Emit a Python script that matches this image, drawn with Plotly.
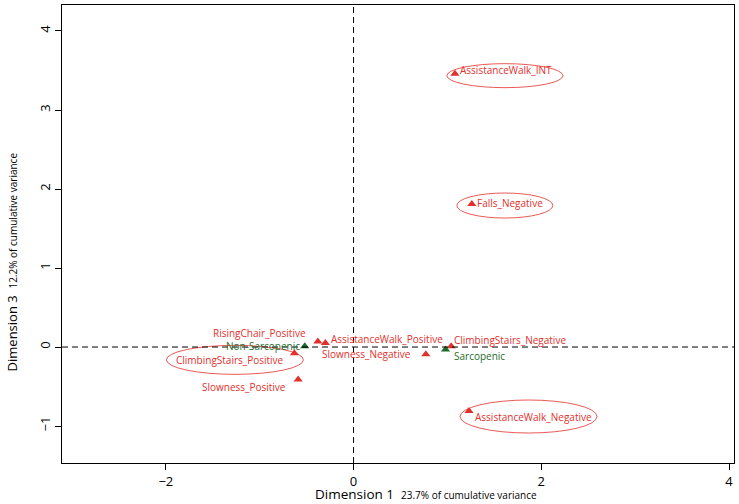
import plotly.graph_objects as go

# category coordinates (Dimension 1, Dimension 3)
cat_names = ["AssistanceWalk_INT", "Falls_Negative", "AssistanceWalk_Negative",
             "ClimbingStairs_Negative", "Slowness_Negative", "AssistanceWalk_Positive",
             "RisingChair_Positive", "ClimbingStairs_Positive", "Slowness_Positive"]
cat_x = [1.08, 1.26, 1.23, 1.04, 0.77, -0.30, -0.38, -0.63, -0.59]
cat_y = [3.46, 1.81, -0.81, 0.01, -0.09, 0.05, 0.07, -0.08, -0.41]

# supplementary groups
grp_names = ["Sarcopenic", "Non-Sarcopenic"]
grp_x = [0.98, -0.52]
grp_y = [-0.03, 0.01]

RED = "#e2302b"
GREEN = "#1f6b2c"
FONT = "Open Sans"

# label placement: (xanchor, yanchor, xshift, yshift)
cat_label_pos = {
    "AssistanceWalk_INT": ("left", "middle", 3, 4),
    "Falls_Negative": ("left", "middle", 3, 1),
    "AssistanceWalk_Negative": ("left", "middle", 4, -6),
    "ClimbingStairs_Negative": ("left", "middle", 1, 6),
    "Slowness_Negative": ("right", "middle", -13, 0),
    "AssistanceWalk_Positive": ("left", "middle", 4, 4),
    "RisingChair_Positive": ("right", "middle", -10, 8),
    "ClimbingStairs_Positive": ("right", "middle", -8, -7),
    "Slowness_Positive": ("right", "middle", -10, -8),
}
grp_label_pos = {
    "Sarcopenic": ("left", "middle", 6, -7),
    "Non-Sarcopenic": ("right", "middle", -3, 0),
}
# highlighted categories: pixel box relative to the point (x0, x1, y0, y1)
ellipses = {
    "AssistanceWalk_INT": (-8, 108, -14, 10),
    "Falls_Negative": (-15, 81, -14, 11),
    "AssistanceWalk_Negative": (-9, 128, -22, 11),
    "ClimbingStairs_Positive": (-128, 9, -21, 8),
}

fig = go.Figure()
fig.add_trace(go.Scatter(x=cat_x, y=cat_y, mode="markers", hoverinfo="text", text=cat_names,
                         marker=dict(symbol="triangle-up", size=8, color=RED)))
fig.add_trace(go.Scatter(x=grp_x, y=grp_y, mode="markers", hoverinfo="text", text=grp_names,
                         marker=dict(symbol="triangle-up", size=8, color=GREEN)))

for n, x, y in zip(cat_names, cat_x, cat_y):
    xa, ya, dx, dy = cat_label_pos[n]
    fig.add_annotation(x=x, y=y, text=n, showarrow=False, xanchor=xa, yanchor=ya,
                       xshift=dx, yshift=dy, font=dict(family=FONT, size=10, color=RED))
    if n in ellipses:
        x0, x1, y0, y1 = ellipses[n]
        fig.add_shape(type="circle", xref="x", yref="y", xsizemode="pixel", ysizemode="pixel",
                      xanchor=x, yanchor=y, x0=x0, x1=x1, y0=y0, y1=y1,
                      line=dict(color=RED, width=0.8))

for n, x, y in zip(grp_names, grp_x, grp_y):
    xa, ya, dx, dy = grp_label_pos[n]
    fig.add_annotation(x=x, y=y, text=n, showarrow=False, xanchor=xa, yanchor=ya,
                       xshift=dx, yshift=dy, font=dict(family=FONT, size=10, color=GREEN))

fig.add_hline(y=0, line=dict(color="black", width=1, dash="6px,4px"))
fig.add_vline(x=0, line=dict(color="black", width=1, dash="6px,4px"))

axis_common = dict(showgrid=False, zeroline=False, showline=True, linecolor="black",
                   linewidth=1, mirror=True, ticks="outside", ticklen=6, tickcolor="black",
                   tickfont=dict(family=FONT, size=13, color="black"))
fig.update_xaxes(range=[-3.106, 4.053], tickvals=[-2, 0, 2, 4],
                 ticktext=["\u22122", "0", "2", "4"], **axis_common)
fig.update_yaxes(range=[-1.468, 4.329], tickvals=[-1, 0, 1, 2, 3, 4],
                 ticktext=["\u22121", "0", "1", "2", "3", "4"], tickangle=-90, **axis_common)

fig.add_annotation(xref="paper", yref="paper", x=0.542, y=-0.044, yanchor="top", showarrow=False,
                   text="Dimension 1  <span style='font-size:10px'>23.7% of cumulative variance</span>",
                   font=dict(family=FONT, size=13.5, color="black"))
fig.add_annotation(xref="paper", yref="paper", x=-0.073, y=0.44, xanchor="center", showarrow=False,
                   textangle=-90,
                   text="Dimension 3  <span style='font-size:10px'>12.2% of cumulative variance</span>",
                   font=dict(family=FONT, size=13, color="black"))

fig.update_layout(width=739, height=504, plot_bgcolor="white", paper_bgcolor="white",
                  showlegend=False, margin=dict(l=62, r=5, t=5, b=41, autoexpand=False))
fig.write_html("out.html", config={"displayModeBar": False},
               post_script="document.body.style.margin='0';")
